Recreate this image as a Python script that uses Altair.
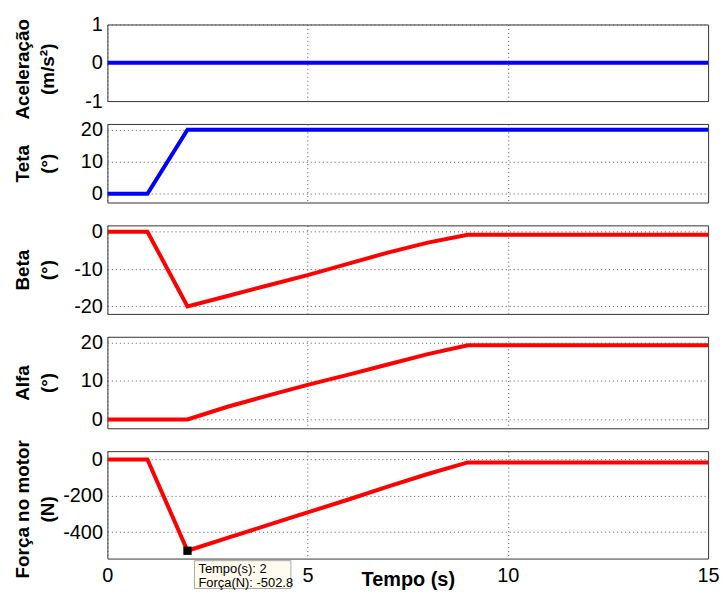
import altair as alt
import pandas as pd

# ---- data ----
x_ticks = [0, 5, 10, 15]

t_acel = [0, 15]
acel = [0, 0]

t_teta = [0, 1, 2, 15]
teta = [0, 0, 20, 20]

t_beta = [0, 1, 2, 3, 4, 5, 6, 7, 8, 9, 15]
beta = [0, 0, -20, -17.2, -14.4, -11.6, -8.6, -5.6, -2.9, -0.8, -0.8]

t_alfa = [0, 1, 2, 3, 4, 5, 6, 7, 8, 9, 15]
alfa = [0, 0, 0, 3.3, 6.2, 9.0, 11.6, 14.3, 17.0, 19.3, 19.3]

t_forca = [0, 1, 2, 3, 4, 5, 6, 7, 8, 9, 15]
forca = [0, 0, -502.8, -432, -362, -292, -222, -150, -80, -16, -16]

tip_t = [2]
tip_f = [-502.8]
tip_text = ["Tempo(s): 2\nForça(N): -502.8"]

FONT = "Liberation Sans"
W = 604
LABEL_EXPR = "'' + datum.value"


def panel(t, v, color, title, ydom, yticks, height, bottom=False, title_shift=0, extra=None):
    df = pd.DataFrame({"t": t, "v": v})
    x_axis = alt.Axis(
        values=x_ticks, grid=True, ticks=False, domain=False, labelExpr=LABEL_EXPR,
        labels=bottom, labelPadding=7, labelFlush=False, labelOverlap=False,
        title="Tempo (s)" if bottom else None,
        **({"titleY": 11, "titleBaseline": "top", "titleFontSize": 20} if bottom else {}),
    )
    y_axis = alt.Axis(
        values=yticks, grid=True, ticks=False, domain=False, labelExpr=LABEL_EXPR,
        labelPadding=5, labelOverlap=False, labelFlush=False, title=title,
        titleX=-94, titleY=height / 2 + title_shift, titleAngle=-90,
        titleAlign="center", titleBaseline="top", titleLineHeight=25,
    )
    line = alt.Chart(df).mark_line(color=color, strokeWidth=4, clip=True).encode(
        x=alt.X("t:Q", scale=alt.Scale(domain=[0, 15], nice=False), axis=x_axis),
        y=alt.Y("v:Q", scale=alt.Scale(domain=ydom, nice=False, zero=False), axis=y_axis),
    )
    ch = line if extra is None else alt.layer(line, *extra)
    return ch.properties(width=W, height=height)


tip_df = pd.DataFrame({"t": tip_t, "v": tip_f, "txt": tip_text})
marker = alt.Chart(tip_df).mark_square(size=70, color="black", opacity=1).encode(
    x="t:Q", y="v:Q")
box = alt.Chart(tip_df).mark_rect(
    fill="#FFFBEE", stroke="#A8A8A8", strokeWidth=1,
    xOffset=7, x2Offset=104, yOffset=10, y2Offset=38,
).encode(x="t:Q", x2="t:Q", y="v:Q", y2="v:Q")
tip_txt = alt.Chart(tip_df).mark_text(
    align="left", baseline="alphabetic", dx=11, dy=22, font=FONT, fontSize=13,
    lineBreak="\n", lineHeight=14, color="black",
).encode(x="t:Q", y="v:Q", text="txt:N")

p1 = panel(t_acel, acel, "#0000FF", ["Aceleração", "(m/s²)"], [-1, 1], [-1, 0, 1], 77, title_shift=6)
p2 = panel(t_teta, teta, "#0000FF", ["Teta", "(°)"], [-2.7, 21.8], [0, 10, 20], 79)
p3 = panel(t_beta, beta, "#FF0000", ["Beta", "(°)"], [-22, 1.7], [-20, -10, 0], 89)
p4 = panel(t_alfa, alfa, "#FF0000", ["Alfa", "(°)"], [-2.3, 21.5], [0, 10, 20], 92)
p5 = panel(t_forca, forca, "#FF0000", ["Força no motor", "(N)"], [-546, 46], [-400, -200, 0], 108,
           bottom=True, title_shift=4, extra=[marker, box, tip_txt])

chart = alt.vconcat(p1, p2, p3, p4, p5, spacing=23, bounds="flush").properties(
    padding={"left": 13, "top": 12, "right": 5, "bottom": 0},
    background="white",
).configure_view(
    stroke="#333333", strokeWidth=1,
).configure_axis(
    labelFont=FONT, labelFontSize=20, labelColor="black",
    titleFont=FONT, titleFontSize=19, titleFontWeight="bold", titleColor="black",
    gridColor="#555555", gridDash=[1, 3], gridWidth=1, gridOpacity=1,
)

chart.save("out.html", embed_options={"renderer": "svg", "actions": False})
